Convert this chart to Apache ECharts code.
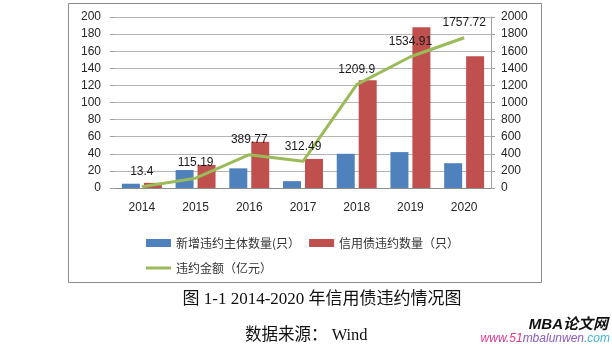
<!DOCTYPE html>
<html>
<head>
<meta charset="utf-8">
<script src="https://cdn.jsdelivr.net/npm/echarts@6/dist/echarts.min.js"></script>
<style>
html,body{margin:0;padding:0;background:#fff;}
#main{width:612px;height:345px;}
</style>
</head>
<body>
<div id="main"></div>
<script>
const years = ['2014','2015','2016','2017','2018','2019','2020'];
const newDefaultEntities = [5, 21, 23, 8, 40, 42, 29];
const creditBondDefaults = [6, 27, 54, 34, 126, 188, 154];
const defaultAmount = [13.4, 115.19, 389.77, 312.49, 1209.9, 1534.91, 1757.72];
const leftTicks = {min: 0, max: 200, interval: 20};
const rightTicks = {min: 0, max: 2000, interval: 200};
const seriesNames = ['新增违约主体数量(只）', '信用债违约数量（只）', '违约金额（亿元）'];
const captionText = '图 1-1 2014-2020 年信用债违约情况图';
const sourceText = '数据来源： Wind';

const chart = echarts.init(document.getElementById('main'), null, {renderer: 'canvas'});
const axisFont = {fontFamily: 'Liberation Sans, Arial, sans-serif', fontSize: 12, color: '#262626'};
const cjk = '"Noto Sans CJK SC", sans-serif';

chart.setOption({
  animation: false,
  backgroundColor: '#fff',
  grid: {left: 115, right: 121, top: 17, bottom: 157, containLabel: false},
  xAxis: {
    type: 'category',
    data: years,
    axisLine: {show: true, lineStyle: {color: '#8c8c8c', width: 1}},
    axisTick: {show: false},
    axisLabel: Object.assign({margin: 14}, axisFont)
  },
  yAxis: [
    {
      type: 'value', min: leftTicks.min, max: leftTicks.max, interval: leftTicks.interval,
      axisLine: {show: false},
      axisTick: {show: true, length: 5, lineStyle: {color: '#a0a0a0'}},
      splitLine: {show: true, lineStyle: {color: '#b4b4b4', width: 1}},
      axisLabel: Object.assign({margin: 14}, axisFont)
    },
    {
      type: 'value', min: rightTicks.min, max: rightTicks.max, interval: rightTicks.interval,
      position: 'right',
      axisLine: {show: true, lineStyle: {color: '#a0a0a0', width: 1}},
      axisTick: {show: true, length: 4, lineStyle: {color: '#a0a0a0'}},
      splitLine: {show: false},
      axisLabel: Object.assign({margin: 10, formatter: function (v) { return String(v); }}, axisFont)
    }
  ],
  legend: [
    {
      data: [{name: seriesNames[0], icon: 'rect'}, {name: seriesNames[1], icon: 'rect'}],
      left: 141, top: 232,
      itemWidth: 25, itemHeight: 8, itemGap: 9,
      textStyle: {fontFamily: cjk, fontSize: 12, color: '#333'}
    },
    {
      data: [{name: seriesNames[2], icon: 'rect'}],
      left: 141, top: 257,
      itemWidth: 25, itemHeight: 3,
      textStyle: {fontFamily: cjk, fontSize: 12, color: '#333'}
    }
  ],
  series: [
    {
      name: seriesNames[0], type: 'bar', yAxisIndex: 0,
      data: newDefaultEntities, barWidth: 18, barGap: '22%',
      itemStyle: {color: '#4F81BD'}
    },
    {
      name: seriesNames[1], type: 'bar', yAxisIndex: 0,
      data: creditBondDefaults, barWidth: 18, barGap: '22%',
      itemStyle: {color: '#C0504D'}
    },
    {
      name: seriesNames[2], type: 'line', yAxisIndex: 1,
      data: defaultAmount, symbol: 'circle', symbolSize: 0.1, showSymbol: true, smooth: false, z: 5,
      lineStyle: {color: '#9BBB59', width: 3},
      itemStyle: {color: '#9BBB59'},
      label: {show: true, position: 'top', distance: 9,
        fontFamily: 'Liberation Sans, Arial, sans-serif', fontSize: 12, color: '#1a1a1a'}
    }
  ],
  graphic: [
    {type: 'rect', shape: {x: 68.5, y: 3.5, width: 473, height: 279}, silent: true, z: -1,
      style: {fill: 'none', stroke: '#8c8c8c', lineWidth: 1}},
    {type: 'text', x: 322, y: 300, style: {text: captionText, fontFamily: 'Liberation Serif, "Noto Sans CJK SC", serif',
      fontSize: 17, fill: '#111', align: 'center', verticalAlign: 'middle'}},
    {type: 'text', x: 245, y: 336, style: {text: sourceText, fontFamily: 'Liberation Serif, "Noto Sans CJK SC", serif',
      fontSize: 16.5, fill: '#111', align: 'left', verticalAlign: 'middle'}},
    {type: 'text', x: 608, y: 325, style: {text: 'MBA论文网', fontFamily: 'Liberation Sans, "Noto Sans CJK SC", sans-serif',
      fontSize: 15, fontWeight: 'bold', fontStyle: 'italic', fill: '#111', align: 'right', verticalAlign: 'middle'}},
    {type: 'text', x: 610, y: 339, style: {
      text: '{a|www.51}{b|mbalunwen}{c|.com}', align: 'right', verticalAlign: 'middle',
      rich: {
        a: {fontFamily: 'Liberation Sans, sans-serif', fontSize: 12, fontStyle: 'italic', fill: '#e0368c', color: '#e0368c'},
        b: {fontFamily: 'Liberation Sans, sans-serif', fontSize: 12, fontStyle: 'italic', fill: '#8a5cc0', color: '#8a5cc0'},
        c: {fontFamily: 'Liberation Sans, sans-serif', fontSize: 12, fontStyle: 'italic', fill: '#3cb4d8', color: '#3cb4d8'}
      }}}
  ]
});
</script>
</body>
</html>
